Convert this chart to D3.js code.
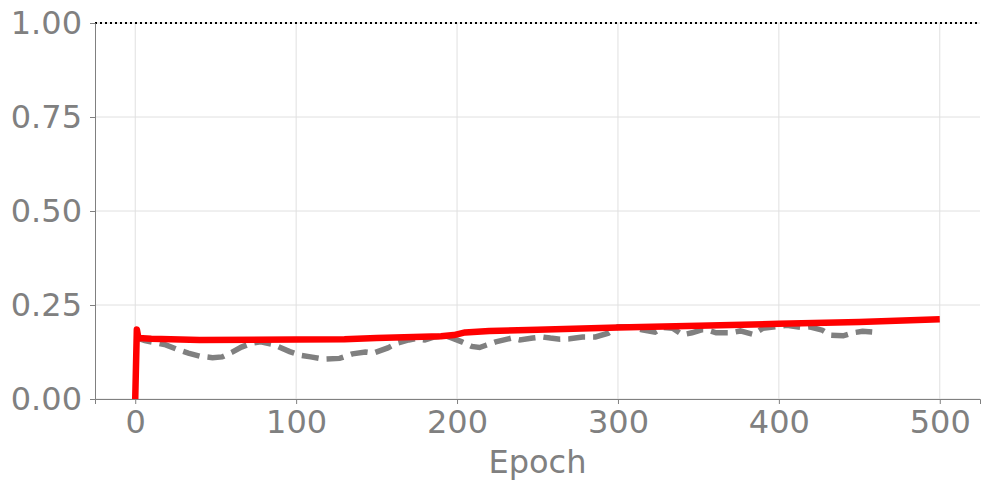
<!DOCTYPE html>
<meta charset="utf-8">
<style>
  body { margin: 0px; background: #fff; }
  text { font-family: 'DejaVu Sans', sans-serif; }
  .grid line { stroke: #e0e0e0; stroke-width: 1; }
</style>
<body>
<svg id="chart" width="989" height="490"></svg>
<script src="https://cdn.jsdelivr.net/npm/d3@7"></script>
<script>
// tick labels
var xTicks = [0, 100, 200, 300, 400, 500];
var yTicks = [0, 0.25, 0.5, 0.75, 1.0];

// red solid series (epoch, value)
var redEpochs = [0, 1, 2, 10, 40, 100, 130, 150, 190, 198, 205, 220, 250, 300, 350, 400, 450, 500];
var redValues = [0, 0.185, 0.162, 0.160, 0.157, 0.158, 0.159, 0.162, 0.167, 0.170, 0.177, 0.181, 0.184, 0.190, 0.195, 0.200, 0.205, 0.212];

// gray dashed series (epoch, value)
var grayEpochs = [0, 3, 6, 12, 19, 26, 33, 40, 48, 54, 60, 66, 72, 78, 86, 96, 103, 109, 117, 127, 135, 143, 148, 157, 163, 170, 174, 180, 186, 193, 197, 203, 209, 214, 218, 224, 234, 239, 247, 253, 258, 264, 270, 278, 286, 294, 300, 309, 315, 323, 328, 334, 340, 346, 352, 355, 361, 370, 376, 384, 390, 401, 405, 415, 419, 427, 432, 440, 446, 452, 458];
var grayValues = [0.162, 0.160, 0.155, 0.150, 0.144, 0.132, 0.122, 0.114, 0.110, 0.112, 0.124, 0.138, 0.148, 0.152, 0.145, 0.126, 0.116, 0.112, 0.106, 0.108, 0.120, 0.125, 0.122, 0.136, 0.149, 0.157, 0.160, 0.157, 0.165, 0.168, 0.162, 0.152, 0.140, 0.137, 0.143, 0.152, 0.162, 0.157, 0.162, 0.165, 0.162, 0.159, 0.160, 0.165, 0.165, 0.175, 0.192, 0.192, 0.184, 0.178, 0.190, 0.188, 0.171, 0.176, 0.184, 0.184, 0.176, 0.176, 0.181, 0.172, 0.188, 0.194, 0.196, 0.190, 0.192, 0.183, 0.170, 0.168, 0.176, 0.180, 0.178];

var svg = d3.select("#chart"),
    margin = {top: 23, right: 9, bottom: 91, left: 95},
    width = +svg.attr("width") - margin.left - margin.right,
    height = +svg.attr("height") - margin.top - margin.bottom;

var x = d3.scaleLinear().domain([-25, 525]).range([0, width]);
var y = d3.scaleLinear().domain([0, 1]).range([height, 0]);

var g = svg.append("g").attr("transform", "translate(" + margin.left + "," + margin.top + ")");

// grid
var grid = g.append("g").attr("class", "grid");
grid.selectAll(".gx").data(xTicks).enter().append("line")
    .attr("x1", function(d) { return x(d); }).attr("x2", function(d) { return x(d); })
    .attr("y1", 0).attr("y2", height);
grid.selectAll(".gy").data(yTicks).enter().append("line")
    .attr("x1", 0).attr("x2", width)
    .attr("y1", function(d) { return y(d); }).attr("y2", function(d) { return y(d); });

// dotted reference line at 1.0
g.append("line")
    .attr("x1", 0).attr("x2", width)
    .attr("y1", y(1)).attr("y2", y(1))
    .attr("stroke", "#000").attr("stroke-width", 2)
    .attr("stroke-dasharray", "2,3");

// axes
var xAxis = g.append("g")
    .attr("transform", "translate(0," + height + ")")
    .call(d3.axisBottom(x).tickValues(xTicks).tickSize(5).tickPadding(6).tickFormat(d3.format("d")));
var yAxis = g.append("g")
    .call(d3.axisLeft(y).tickValues(yTicks).tickSize(5).tickPadding(8).tickFormat(d3.format(".2f")));

[xAxis, yAxis].forEach(function(a) {
  a.select(".domain").attr("stroke", "#808080").attr("stroke-width", 1);
  a.selectAll(".tick line").attr("stroke", "#808080");
  a.selectAll(".tick text").attr("fill", "#808080")
    .style("font-size", "32px").style("font-family", "'DejaVu Sans', sans-serif");
});

g.append("text")
    .attr("x", width / 2).attr("y", height + 74)
    .attr("text-anchor", "middle")
    .attr("fill", "#808080")
    .style("font-size", "32px")
    .text("Epoch");

var line = d3.line()
    .x(function(d) { return x(d[0]); })
    .y(function(d) { return y(d[1]); });

var gray = d3.zip(grayEpochs, grayValues);
var red = d3.zip(redEpochs, redValues);

g.append("path").datum(gray)
    .attr("d", line)
    .attr("fill", "none")
    .attr("stroke", "#808080")
    .attr("stroke-width", 5.5)
    .attr("stroke-dasharray", "17,8");

g.append("path").datum(red)
    .attr("d", line)
    .attr("fill", "none")
    .attr("stroke", "#ff0000")
    .attr("stroke-width", 6.5)
    .attr("stroke-linejoin", "round");
</script>
</body>
